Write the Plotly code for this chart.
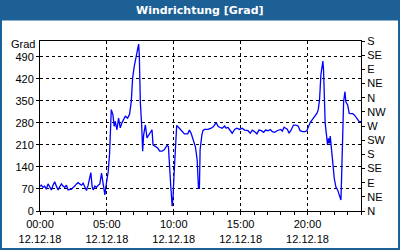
import plotly.graph_objects as go

# ---- data (hours since 00:00 on 12.12.18, wind direction in degrees) ----
hours = [0.0, 0.1, 0.225, 0.35, 0.475, 0.6, 0.725, 0.85, 0.975, 1.1, 1.225, 1.35, 1.475, 1.6, 1.725, 1.85,
         1.975, 2.1, 2.225, 2.35, 2.475, 2.6, 2.725, 2.85, 2.975, 3.1, 3.225, 3.35, 3.475, 3.6, 3.725, 3.8,
         3.9, 3.975, 4.1, 4.225, 4.35, 4.475, 4.6, 4.675, 4.775, 4.85, 4.925, 5.0, 5.1, 5.2, 5.27, 5.33,
         5.45, 5.55, 5.625, 5.75, 5.875, 6.0, 6.125, 6.25, 6.375, 6.55, 6.7, 6.825, 6.925, 7.05, 7.175, 7.3,
         7.375, 7.425, 7.5, 7.6, 7.675, 7.75, 7.875, 8.0, 8.125, 8.25, 8.375, 8.45, 8.625, 8.8, 8.95, 9.125,
         9.3, 9.5, 9.6, 9.7, 9.78, 9.88, 9.95, 10.02, 10.12, 10.22,
         10.42, 10.55, 10.8, 11.05, 11.17, 11.3, 11.47, 11.62, 11.75, 11.85, 11.92, 11.97, 12.1, 12.18,
         12.3, 12.55, 12.8, 12.97, 13.17, 13.3, 13.42, 13.62, 13.8, 13.92, 14.05, 14.22, 14.37, 14.55,
         14.72, 14.92, 15.12, 15.3, 15.55, 15.72, 15.87, 16.05, 16.22, 16.37, 16.55, 16.72, 16.87, 17.05,
         17.22, 17.37, 17.55, 17.72, 17.92,
         18.0, 18.12, 18.25, 18.37, 18.5, 18.62, 18.75, 18.95, 19.12, 19.3, 19.45, 19.62, 19.8, 19.95,
         20.05, 20.2, 20.37, 20.57, 20.7, 20.8, 20.9, 21.0, 21.1, 21.15, 21.2, 21.25, 21.32, 21.42, 21.5,
         21.57, 21.65, 21.7, 21.75, 21.82, 21.92, 22.0, 22.12, 22.25, 22.37, 22.5, 22.55, 22.62, 22.7,
         22.8, 22.87, 23.0, 23.12, 23.25, 23.37, 23.5, 23.7, 23.87, 24.0]
direction = [79, 82, 75, 79, 69, 86, 77, 67, 82, 93, 79, 67, 77, 86, 79, 75,
             82, 67, 69, 69, 75, 79, 86, 90, 86, 82, 88, 77, 65, 82, 109, 122,
             77, 67, 79, 75, 82, 86, 120, 98, 79, 51, 77, 98, 125, 180, 250, 322,
             306, 269, 285, 258, 295, 264, 280, 290, 301, 295, 308, 348, 422, 460, 486, 512,
             530, 496, 348, 274, 190, 242, 274, 232, 242, 248, 258, 210, 205, 200, 190, 190,
             195, 209, 205, 150, 77, 15, 45, 114, 210, 272,
             263, 257, 245, 245, 257, 247, 225, 204, 162, 72, 72, 194, 241, 255,
             259, 259, 263, 268, 281, 270, 266, 263, 270, 263, 266, 257, 247, 259,
             263, 259, 263, 257, 255, 247, 257, 252, 245, 257, 255, 250, 257, 255,
             259, 252, 250, 255, 257,
             259, 254, 266, 263, 259, 247, 255, 273, 273, 270, 255, 252, 252, 255,
             268, 281, 291, 302, 310, 321, 353, 432, 458, 476, 448, 353, 279, 241, 210,
             231, 215, 238, 210, 172, 141, 104, 77, 67, 51, 35, 109, 268, 347,
             379, 347, 337, 310, 309, 309, 305, 294, 284, 284]

x_tickvals = [0, 5, 10, 15, 20]
x_ticktext = ["00:00<br>12.12.18", "05:00<br>12.12.18", "10:00<br>12.12.18",
              "15:00<br>12.12.18", "20:00<br>12.12.18"]
y_tickvals = [0, 70, 140, 210, 280, 350, 420, 490]
y_ticktext = ["0", "70", "140", "210", "280", "350", "420", "490"]
y2_tickvals = [0, 45, 90, 135, 180, 225, 270, 315, 360, 405, 450, 495, 540]
y2_ticktext = ["N", "NE", "E", "SE", "S", "SW", "W", "NW", "N", "NE", "E", "SE", "S"]
y_unit = "Grad"
title_text = "Windrichtung [Grad]"

# ---- layout geometry ----
W, H = 400, 250
L, R, T, B = 40, 39, 41, 39
pw, ph = W - L - R, H - T - B
def px_x(p):
    return (p - L) / pw
def px_y(p):
    return 1 + (T - p) / ph

font = dict(family="Liberation Sans, Arial, sans-serif", size=11, color="black")

fig = go.Figure()
fig.add_trace(go.Scatter(x=hours, y=direction, mode="lines",
                         line=dict(color="#0000ff", width=1.3), showlegend=False, hoverinfo="skip"))
fig.add_trace(go.Scatter(x=hours, y=direction, mode="lines", yaxis="y2",
                         line=dict(color="rgba(0,0,0,0)", width=0), showlegend=False, hoverinfo="skip"))

fig.update_layout(
    width=W, height=H,
    margin=dict(l=L, r=R, t=T, b=B, pad=0, autoexpand=False),
    paper_bgcolor="white", plot_bgcolor="white",
    font=font,
    xaxis=dict(range=[0, 24], tickmode="array", tickvals=x_tickvals, ticktext=x_ticktext,
               showgrid=True, gridcolor="black", griddash="3px,3px", gridwidth=1,
               showline=True, linecolor="black", linewidth=1, mirror=True,
               ticks="outside", ticklen=3, tickcolor="black", zeroline=False, automargin=False,
               minor=dict(tickmode="linear", tick0=0, dtick=1, ticks="outside", ticklen=3,
                          tickcolor="black", showgrid=False),
               fixedrange=True),
    yaxis=dict(range=[0, 540], tickmode="array", tickvals=y_tickvals, ticktext=y_ticktext,
               showgrid=True, gridcolor="black", griddash="3px,3px", gridwidth=1,
               showline=True, linecolor="black", linewidth=1, mirror=True, automargin=False,
               ticks="outside", ticklen=3, tickcolor="black", zeroline=False, fixedrange=True),
    yaxis2=dict(range=[0, 540], overlaying="y", side="right", tickmode="array",
                tickvals=y2_tickvals, ticktext=y2_ticktext, showgrid=False, automargin=False,
                showline=True, linecolor="black", linewidth=1,
                ticks="outside", ticklen=3, tickcolor="black", zeroline=False, fixedrange=True),
    shapes=[
        dict(type="rect", xref="paper", yref="paper",
             x0=px_x(0), x1=px_x(W), y0=px_y(20.5), y1=px_y(0),
             fillcolor="#1d6096", line=dict(width=0), layer="above"),
        dict(type="rect", xref="paper", yref="paper",
             x0=px_x(1), x1=px_x(W - 1), y0=px_y(H - 1), y1=px_y(1),
             fillcolor="rgba(0,0,0,0)", line=dict(color="#1d6096", width=2), layer="above"),
    ],
    annotations=[
        dict(text="<b>" + title_text + "</b>", xref="paper", yref="paper",
             x=px_x(W / 2), y=px_y(10.5), showarrow=False, xanchor="center", yanchor="middle",
             font=dict(family="DejaVu Sans, Verdana, sans-serif", size=11, color="white")),
        dict(text=y_unit, xref="paper", yref="y", x=px_x(37), y=540, yshift=-3,
             showarrow=False, xanchor="right", yanchor="middle", font=font),
    ],
)

fig.write_html("out.html", config={"displayModeBar": False})
